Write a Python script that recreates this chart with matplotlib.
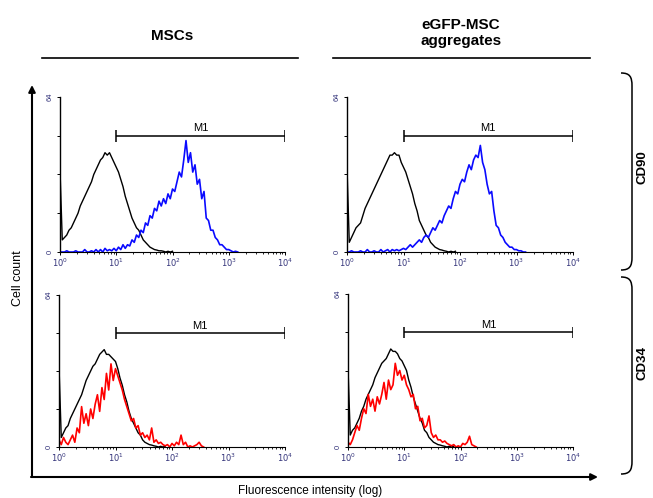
import matplotlib
matplotlib.use("Agg")
import matplotlib.pyplot as plt
import numpy as np
from matplotlib.path import Path
from matplotlib.patches import PathPatch
from matplotlib.ticker import NullFormatter

# ---- data ----
# each list holds cell counts per channel, channels spaced 0.04 log10 units from 10^0
CHANNEL_STEP = 0.04

cd90_msc_isotype = [
    34, 5, 6, 7, 9, 10, 12, 14, 16, 19, 21, 23, 25, 27, 29, 32, 34, 36, 38, 39,
    41, 40, 41, 39, 37, 35, 33, 30, 27, 23, 20, 17, 14, 12, 10, 9, 7, 5, 4, 3,
    2, 1.5, 1, 0.8, 0.5, 0.5, 0.3, 0, 0.3, 0, 0.3,
]
cd90_msc_stain = [
    0, 0, 0, 0.5, 0, 0, 0, 0.5, 0, 0, 0, 1, 0, 0, 0.5, 0, 1, 0, 1, 0,
    1.5, 0.5, 1, 0.5, 1.5, 0.5, 2, 1, 3, 1.5, 3, 2.5, 5, 4, 7, 6, 9, 8, 12, 11,
    15, 14, 18, 17, 21, 19, 22, 20, 24, 22, 26, 25, 29, 33, 31, 38, 46, 37, 41, 33,
    36, 28, 30, 22, 25, 14, 13, 9, 9, 6, 5, 3, 3, 2, 1, 1, 0.5, 0, 0.3, 0,
]
cd90_agg_isotype = [
    35, 4, 6, 8, 10, 11, 12, 15, 18, 20, 22, 24, 26, 28, 30, 32, 34, 36, 38, 40,
    40, 41, 40, 40, 37, 35, 33, 30, 27, 24, 20, 17, 13, 11, 9, 7, 6, 4, 3, 2,
    1.5, 1, 0.8, 0.5, 0.3, 0, 0.3, 0, 0.3,
]
cd90_agg_stain = [
    0, 0, 0.5, 0, 0, 0, 0.5, 0, 0, 1, 0, 0, 0.5, 0, 0, 1, 0, 0.5, 1, 0,
    1, 0.5, 1, 0.5, 1, 1.5, 1, 2, 3, 2, 3, 4, 5, 4, 6, 7, 6, 8, 10, 9,
    11, 13, 12, 15, 17, 19, 18, 22, 25, 24, 28, 30, 29, 33, 36, 34, 38, 40, 39, 44,
    37, 34, 28, 24, 25, 17, 11, 10, 7, 6, 4, 3, 2, 2, 1, 1, 0.5, 0.5, 0, 0,
]
cd34_msc_isotype = [
    34, 4, 6, 8, 9, 12, 14, 16, 18, 20, 22, 25, 28, 30, 32, 34, 35, 37, 39, 40,
    41, 39, 39, 38, 37, 36, 33, 29, 26, 22, 19, 15, 12, 10, 8, 6, 5, 3, 2, 1.5,
    1, 0.8, 0.5, 0.3, 0, 0.3, 0, 0.3,
]
cd34_msc_stain = [
    3, 1, 4, 2, 1, 3, 5, 2, 8, 6, 17, 10, 14, 9, 16, 12, 18, 22, 15, 25,
    20, 31, 24, 35, 28, 33, 30, 27, 24, 20, 17, 14, 11, 12, 8, 9, 5, 6, 4, 5,
    3, 8, 2, 3, 1.5, 2, 1, 0.5, 1, 0, 1.5, 0.5, 2, 1, 5, 1, 2, 0, 0.5, 0,
    0.5, 1, 2, 0.5, 0,
]
cd34_agg_isotype = [
    33, 5, 7, 8, 10, 12, 15, 17, 20, 22, 24, 26, 29, 31, 33, 35, 36, 37, 39, 41,
    40, 40, 39, 37, 36, 34, 32, 28, 25, 21, 18, 15, 12, 10, 7, 6, 4, 3, 2, 1.5,
    1, 0.8, 0.5, 0.3, 0, 0.3, 0, 0.3,
]
cd34_agg_stain = [
    2, 1, 3, 6, 9, 7, 12, 16, 14, 22, 17, 20, 15, 21, 18, 22, 27, 20, 28, 24,
    26, 35, 30, 32, 28, 30, 26, 24, 21, 22, 16, 17, 11, 12, 8, 9, 13, 6, 4, 5,
    3, 3, 2, 2.5, 1.5, 1, 0.5, 1, 0, 0.5, 0, 1.5, 1, 2, 4.5, 1, 0.5, 0,
]

column_titles = ["MSCs", "eGFP-MSC\naggregates"]
row_titles = ["CD90", "CD34"]
intensity_ticks = [1, 10, 100, 1000, 10000]
intensity_labels = [r"$10^{0}$", r"$10^{1}$", r"$10^{2}$", r"$10^{3}$", r"$10^{4}$"]
count_ticks = [0, 16, 32, 48, 64]
count_labels = ["0", "", "", "", "64"]
marker_name = "M1"
marker_span = (10, 10000)
marker_count = 48

W, H = 653, 498
TICK_COLOR = "#33337a"


def channels(counts):
    return 10 ** (CHANNEL_STEP * np.arange(len(counts)))


def draw_panel(fig, box, isotype, stain, color):
    """box is (left, top, right, bottom) in pixels."""
    l, t, r, b = box
    ax = fig.add_axes([l / W, 1 - b / H, (r - l) / W, (b - t) / H])
    ax.set_facecolor("none")
    ax.plot(channels(isotype), isotype, color="black", lw=1.0)
    ax.plot(channels(stain), stain, color=color, lw=1.2)

    # M1 marker gate
    ax.hlines(marker_count, *marker_span, color="black", lw=1.1)
    ax.vlines(marker_span, marker_count - 2.4, marker_count + 2.4, color="black", lw=1.1)
    ax.text(10 ** 2.5, marker_count + 1.0, marker_name, ha="center", va="bottom",
            fontsize=8, family="Liberation Sans")

    ax.set_xscale("log")
    ax.set_xlim(1, 10000)
    ax.set_ylim(0, 64)
    for side in ("top", "right"):
        ax.spines[side].set_visible(False)
    ax.spines["left"].set_linewidth(1.0)
    ax.spines["bottom"].set_linewidth(0.8)

    ax.set_xticks(intensity_ticks, intensity_labels)
    ax.xaxis.set_minor_formatter(NullFormatter())
    ax.tick_params(axis="x", which="major", length=2.5, width=0.7, pad=1,
                   labelsize=6, labelcolor=TICK_COLOR)
    ax.tick_params(axis="x", which="minor", length=1.5, width=0.6)
    ax.set_yticks(count_ticks, count_labels)
    ax.tick_params(axis="y", length=2, width=0.7, pad=2.5, labelsize=5.5,
                   labelcolor=TICK_COLOR)
    for lab in ax.get_yticklabels():
        lab.set_rotation(90)
        lab.set_va("center")
    return ax


def brace(ax, top, bottom, x_in=621, x_out=632):
    verts = [(x_in, top), (x_out - 2, top), (x_out, top + 4), (x_out, top + 13),
             (x_out, bottom - 13),
             (x_out, bottom - 4), (x_out - 2, bottom), (x_in, bottom)]
    codes = [Path.MOVETO, Path.CURVE4, Path.CURVE4, Path.CURVE4,
             Path.LINETO, Path.CURVE4, Path.CURVE4, Path.CURVE4]
    ax.add_patch(PathPatch(Path(verts, codes), fill=False, lw=1.1, color="black"))


def main():
    plt.rcParams["font.family"] = ["Liberation Sans", "DejaVu Sans"]
    fig = plt.figure(figsize=(W / 100, H / 100), dpi=100)

    # overlay in pixel coordinates for the frame decorations
    deco = fig.add_axes([0, 0, 1, 1])
    deco.set_xlim(0, W)
    deco.set_ylim(H, 0)
    deco.axis("off")

    arrow = dict(arrowstyle="-|>", lw=1.5, color="black", mutation_scale=10,
                 shrinkA=0, shrinkB=0)
    deco.annotate("", xy=(32, 85), xytext=(32, 477), arrowprops=arrow)
    deco.annotate("", xy=(598, 477), xytext=(31, 477), arrowprops=arrow)

    # column headers
    deco.text(172, 36, column_titles[0], ha="center", va="center",
              fontsize=11, fontweight="bold")
    deco.text(461, 33, column_titles[1], ha="center", va="center",
              fontsize=11, fontweight="bold", linespacing=1.2)
    deco.plot([42, 298], [58, 58], color="black", lw=1.2)
    deco.plot([333, 590], [58, 58], color="black", lw=1.2)

    # row headers with braces
    brace(deco, 73, 270)
    brace(deco, 277, 474)
    deco.text(643, 167, row_titles[0], rotation=90, ha="center", va="center",
              fontsize=9.5, fontweight="bold")
    deco.text(643, 363, row_titles[1], rotation=90, ha="center", va="center",
              fontsize=9.5, fontweight="bold")

    deco.text(18, 278, "Cell count", rotation=90, ha="center", va="center", fontsize=9)
    deco.text(310, 491, "Fluorescence intensity (log)", ha="center", va="center",
              fontsize=8.5)

    draw_panel(fig, (60, 97, 285, 252), cd90_msc_isotype, cd90_msc_stain, "#0a0aff")
    draw_panel(fig, (347, 97, 573, 252), cd90_agg_isotype, cd90_agg_stain, "#0a0aff")
    draw_panel(fig, (59, 295, 285, 447), cd34_msc_isotype, cd34_msc_stain, "#ff0000")
    draw_panel(fig, (348, 294, 573, 447), cd34_agg_isotype, cd34_agg_stain, "#ff0000")

    fig.savefig("out.png", dpi=100)
    plt.close(fig)


if __name__ == "__main__":
    main()
